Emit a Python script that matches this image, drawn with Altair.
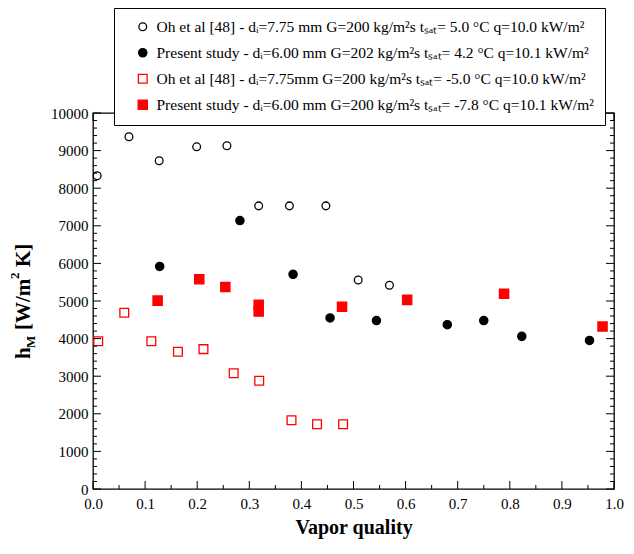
import altair as alt
import pandas as pd

# ---- data ----
oh_p5_x = [0.008, 0.069, 0.127, 0.199, 0.257, 0.318, 0.377, 0.447, 0.509, 0.569]
oh_p5_y = [8330, 9370, 8730, 9100, 9130, 7530, 7530, 7530, 5560, 5420]
ps_p4_x = [0.128, 0.282, 0.384, 0.455, 0.544, 0.680, 0.750, 0.823, 0.953]
ps_p4_y = [5920, 7140, 5710, 4550, 4480, 4370, 4480, 4060, 3950]
oh_m5_x = [0.010, 0.060, 0.112, 0.163, 0.212, 0.270, 0.319, 0.381, 0.430, 0.480]
oh_m5_y = [3930, 4690, 3930, 3650, 3720, 3080, 2880, 1830, 1720, 1720]
ps_m8_x = [0.124, 0.204, 0.254, 0.318, 0.318, 0.478, 0.603, 0.789, 0.978]
ps_m8_y = [5010, 5580, 5370, 4900, 4720, 4850, 5030, 5190, 4320]

series_names = [
    "Oh et al [48] - dᵢ=7.75 mm G=200 kg/m²s tₛₐₜ= 5.0 °C q=10.0 kW/m²",
    "Present study - dᵢ=6.00 mm G=202 kg/m²s tₛₐₜ= 4.2 °C q=10.1 kW/m²",
    "Oh et al [48] - dᵢ=7.75mm G=200 kg/m²s tₛₐₜ= -5.0 °C q=10.0 kW/m²",
    "Present study - dᵢ=6.00 mm G=200 kg/m²s tₛₐₜ= -7.8 °C q=10.1 kW/m²",
]

x_major = [round(i * 0.1, 2) for i in range(11)]
x_minor = [round(0.05 + i * 0.1, 2) for i in range(10)]
y_major = [i * 1000 for i in range(11)]
y_minor = [v for v in range(200, 10000, 200) if v % 1000 != 0]

FONT = "Liberation Serif"
W, H = 521, 376

rows = []
for name, xs, ys in zip(series_names, [oh_p5_x, ps_p4_x, oh_m5_x, ps_m8_x],
                        [oh_p5_y, ps_p4_y, oh_m5_y, ps_m8_y]):
    for a, b in zip(xs, ys):
        rows.append({"series": name, "x": a, "h": b})
df = pd.DataFrame(rows)

xscale = alt.Scale(domain=[0, 1], nice=False, zero=False)
yscale = alt.Scale(domain=[0, 10000], nice=False)

xaxis = alt.Axis(title="Vapor quality", values=x_major, format=".1f",
                 ticks=False, domain=False, grid=False, labelFlush=False,
                 labelFont=FONT, labelFontSize=15, labelColor="black",
                 labelPadding=7, titleFont=FONT, titleFontSize=20,
                 titleFontWeight="bold", titleColor="black", titlePadding=6)
yaxis = alt.Axis(title=None, values=y_major, format="d",
                 ticks=False, domain=False, grid=False, labelFlush=False,
                 labelFont=FONT, labelFontSize=15, labelColor="black",
                 labelPadding=5)

points = alt.Chart(df).mark_point(opacity=1, strokeWidth=1.3).encode(
    x=alt.X("x:Q", scale=xscale, axis=xaxis),
    y=alt.Y("h:Q", scale=yscale, axis=yaxis),
    color=alt.Color("series:N", title=None,
                    scale=alt.Scale(domain=series_names, range=["black", "black", "red", "red"])),
    fill=alt.Fill("series:N", title=None,
                  scale=alt.Scale(domain=series_names, range=["white", "black", "white", "red"])),
    shape=alt.Shape("series:N", title=None,
                    scale=alt.Scale(domain=series_names, range=["circle", "circle", "square", "square"])),
    size=alt.Size("series:N", title=None,
                  scale=alt.Scale(domain=series_names, range=[60, 85, 60, 85])),
)

def ticks_y(vals, x0, x1):
    return alt.Chart(pd.DataFrame({"v": vals})).mark_rule(color="black", strokeWidth=1).encode(
        y=alt.Y("v:Q", scale=yscale, axis=yaxis), x=alt.value(x0), x2=alt.value(x1))

def ticks_x(vals, y0, y1):
    return alt.Chart(pd.DataFrame({"v": vals})).mark_rule(color="black", strokeWidth=1).encode(
        x=alt.X("v:Q", scale=xscale, axis=xaxis), y=alt.value(y0), y2=alt.value(y1))

tick_layers = [
    ticks_y(y_major, 0, 8), ticks_y(y_minor, 0, 4),
    ticks_y(y_major, W - 8, W), ticks_y(y_minor, W - 4, W),
    ticks_x(x_major, H - 8, H), ticks_x(x_minor, H - 4, H),
    ticks_x(x_major, 0, 8), ticks_x(x_minor, 0, 4),
]

# y-axis title built from pieces (subscript / superscript)
def ytitle(txt, y, x, size):
    return alt.Chart(pd.DataFrame({"t": [txt]})).mark_text(
        angle=270, align="left", baseline="alphabetic", font=FONT,
        fontSize=size, fontWeight="bold", color="black").encode(
        text="t:N", x=alt.value(x), y=alt.value(y))

yt = [
    ytitle("h", 246, -63, 21),
    ytitle("M", 235, -58, 13),
    ytitle("[W/m", 217, -63, 21),
    ytitle("2", 166, -74, 13),
    ytitle("K]", 154, -63, 21),
]

chart = alt.layer(points, *tick_layers, *yt).properties(
    width=W, height=H,
    autosize=alt.AutoSizeParams(type="none"),
    padding={"left": 85, "top": 105, "right": 12, "bottom": 57},
).configure_view(stroke="black", strokeWidth=1.3).configure_legend(
    orient="none", legendX=21, legendY=-105, direction="vertical",
    fillColor="white", strokeColor="black", padding=11, symbolOffset=10,
    labelFont=FONT, labelFontSize=15.5, labelColor="black", labelLimit=600,
    rowPadding=9, symbolStrokeWidth=1.3, labelOffset=6,
)

chart.save("out.html", embed_options={"renderer": "svg", "actions": False})
